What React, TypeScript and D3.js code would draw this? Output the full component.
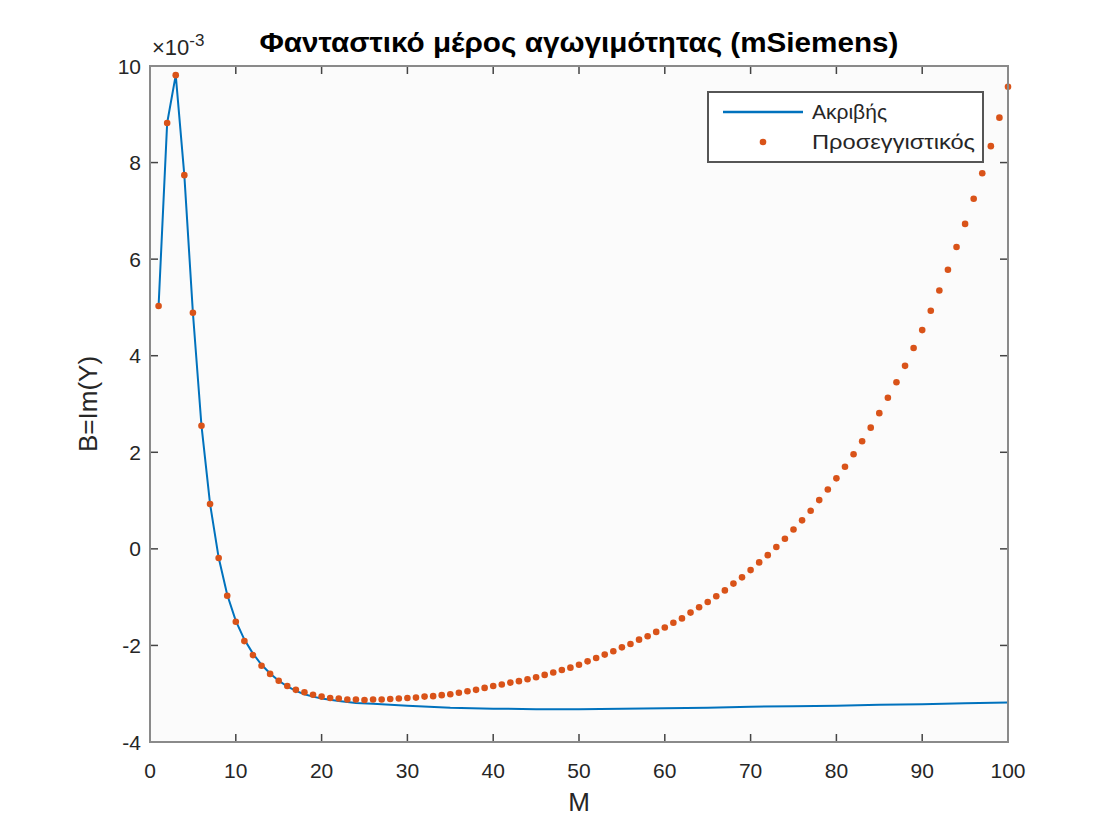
import React from "react";
import * as d3 from "d3";

// values in units of 1e-3 (mSiemens)
const approxM = d3.range(1, 101);
const approxB = [
  5.03, 8.82, 9.81, 7.74, 4.89, 2.55, 0.93, -0.19, -0.97, -1.51,
  -1.91, -2.2, -2.42, -2.59, -2.73, -2.84, -2.92, -2.97, -3.02, -3.06,
  -3.09, -3.1, -3.12, -3.12, -3.13, -3.12, -3.12, -3.11, -3.1, -3.09,
  -3.08, -3.06, -3.05, -3.03, -3.01, -2.98, -2.95, -2.92, -2.88, -2.84,
  -2.81, -2.77, -2.74, -2.7, -2.66, -2.61, -2.56, -2.51, -2.46, -2.4,
  -2.33, -2.26, -2.19, -2.12, -2.04, -1.97, -1.88, -1.81, -1.72, -1.63,
  -1.53, -1.44, -1.32, -1.21, -1.1, -0.98, -0.86, -0.72, -0.59, -0.44,
  -0.28, -0.13, 0.04, 0.21, 0.4, 0.59, 0.79, 1.01, 1.23, 1.46,
  1.7, 1.96, 2.23, 2.51, 2.81, 3.13, 3.45, 3.79, 4.16, 4.53,
  4.93, 5.35, 5.78, 6.25, 6.73, 7.25, 7.78, 8.34, 8.93, 9.57,
];

const exactM = [
  1, 2, 3, 4, 5, 6, 7, 8, 9, 10, 11, 12, 13, 14, 15, 16, 17, 18, 19, 20,
  22, 24, 26, 28, 30, 35, 40, 45, 50, 55, 60, 65, 70, 75, 80, 85, 90, 95, 100,
];
const exactB = [
  5.03, 8.82, 9.81, 7.74, 4.89, 2.55, 0.93, -0.18, -0.95, -1.49,
  -1.88, -2.17, -2.4, -2.58, -2.73, -2.85, -2.94, -3.01, -3.06, -3.1,
  -3.15, -3.19, -3.21, -3.23, -3.25, -3.29, -3.31, -3.32, -3.32, -3.31,
  -3.3, -3.29, -3.27, -3.26, -3.25, -3.23, -3.22, -3.2, -3.18,
];

const xTicks = [0, 10, 20, 30, 40, 50, 60, 70, 80, 90, 100];
const yTicks = [-4, -2, 0, 2, 4, 6, 8, 10];

const W = 1104;
const H = 827;
const left = 150, right = 1008, top = 66, bottom = 742;
const font = "'Liberation Sans', Arial, sans-serif";
const blue = "#0072BD";
const orange = "#D95319";
const textCol = "#262626";

const App = () => {
  const x = d3.scaleLinear().domain([0, 100]).range([left, right]);
  const y = d3.scaleLinear().domain([-4, 10]).range([bottom, top]);
  const line = d3
    .line<number>()
    .x((_, i) => x(exactM[i]))
    .y((d) => y(d));
  const tick = 8;

  return (
    <svg
      width={W}
      height={H}
      style={{ position: "absolute", left: 0, top: 0, background: "#fff" }}
    >
      <rect x={left} y={top} width={right - left} height={bottom - top} fill="#fbfbfb" />

      <defs>
        <clipPath id="plotclip">
          <rect x={left - 5} y={top - 5} width={right - left + 10} height={bottom - top + 10} />
        </clipPath>
      </defs>

      {/* ticks */}
      {xTicks.map((t) => (
        <g key={"x" + t}>
          <line x1={x(t)} x2={x(t)} y1={bottom} y2={bottom - tick} stroke="#444" strokeWidth={1.5} />
          <line x1={x(t)} x2={x(t)} y1={top} y2={top + tick} stroke="#444" strokeWidth={1.5} />
          <text
            x={x(t)}
            y={778}
            textAnchor="middle"
            fontFamily={font}
            fontSize={21}
            fill={textCol}
          >
            {t}
          </text>
        </g>
      ))}
      {yTicks.map((t) => (
        <g key={"y" + t}>
          <line x1={left} x2={left + tick} y1={y(t)} y2={y(t)} stroke="#444" strokeWidth={1.5} />
          <line x1={right} x2={right - tick} y1={y(t)} y2={y(t)} stroke="#444" strokeWidth={1.5} />
          <text
            x={141}
            y={y(t) + 7.5}
            textAnchor="end"
            fontFamily={font}
            fontSize={21}
            fill={textCol}
          >
            {t}
          </text>
        </g>
      ))}

      <g clipPath="url(#plotclip)">
        <path d={line(exactB) || ""} fill="none" stroke={blue} strokeWidth={2} />
        {approxB.map((v, i) => (
          <circle key={i} cx={x(approxM[i])} cy={y(v)} r={3.3} fill={orange} />
        ))}
      </g>

      {/* axes box */}
      <rect
        x={left}
        y={top}
        width={right - left}
        height={bottom - top}
        fill="none"
        stroke="#8a8a8a"
        strokeWidth={2}
      />

      {/* exponent */}
      <text x={152} y={55} fontFamily={font} fontSize={22} fill={textCol}>
        ×10
        <tspan dy={-9} fontSize={17}>
          -3
        </tspan>
      </text>

      {/* title */}
      <text
        x={(left + right) / 2}
        y={52}
        textAnchor="middle"
        fontFamily={font}
        fontSize={27}
        fontWeight="bold"
        fill="#000"
        textLength={639}
        lengthAdjust="spacingAndGlyphs"
      >
        Φανταστικό μέρος αγωγιμότητας (mSiemens)
      </text>

      {/* axis labels */}
      <text
        x={(left + right) / 2}
        y={811}
        textAnchor="middle"
        fontFamily={font}
        fontSize={26}
        fill={textCol}
      >
        M
      </text>
      <text
        transform={`translate(97, ${(top + bottom) / 2}) rotate(-90)`}
        textAnchor="middle"
        fontFamily={font}
        fontSize={26}
        fill={textCol}
      >
        B=Im(Y)
      </text>

      {/* legend */}
      <g>
        <rect x={708} y={92} width={275} height={70} fill="#fff" stroke="#555" strokeWidth={2} />
        <line x1={723} x2={803} y1={112} y2={112} stroke={blue} strokeWidth={2.5} />
        <text x={812} y={119} fontFamily={font} fontSize={21} fill={textCol}>
          Ακριβής
        </text>
        <circle cx={763} cy={142} r={3.3} fill={orange} />
        <text
          x={812}
          y={149}
          fontFamily={font}
          fontSize={21}
          fill={textCol}
          textLength={163}
          lengthAdjust="spacingAndGlyphs"
        >
          Προσεγγιστικός
        </text>
      </g>
    </svg>
  );
};

export default App;
